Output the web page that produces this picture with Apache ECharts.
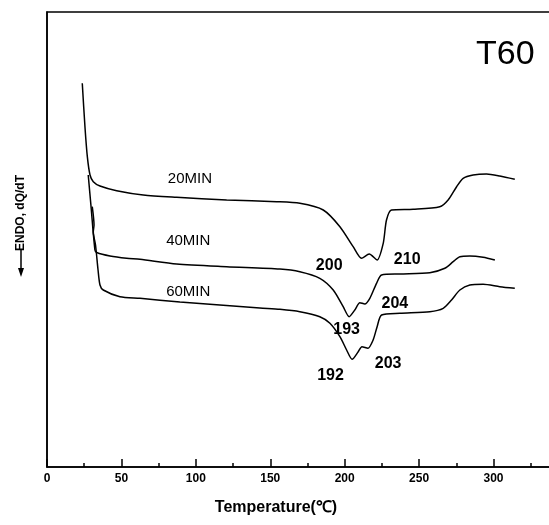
<!DOCTYPE html>
<html>
<head>
<meta charset="utf-8">
<title>T60 DSC</title>
<script src="https://cdn.jsdelivr.net/npm/echarts@6/dist/echarts.min.js"></script>
<style>
  html, body { margin: 0; padding: 0; background: #fff; }
  #chart { width: 549px; height: 525px; }
</style>
</head>
<body>
<div id="chart"></div>
<script>
// temperature (°C) vs heat flow (arbitrary units)
const curve20 = [
  [23.7, 383.7], [25.5, 340.3], [27.1, 310.3], [28.9, 292], [31.1, 285.3], [35.6, 281],
  [46.8, 276.3], [64.7, 272], [87.1, 269.7], [120.7, 267], [154.3, 265.3], [169.9, 263.7],
  [185.6, 257], [196.8, 240.3], [205.7, 220.3], [211.3, 208.7], [216.5, 213], [221.8, 207],
  [225.9, 223.7], [228.1, 247], [231.5, 257], [246, 257.7], [263.9, 260.3], [269.5, 267],
  [275.2, 280.3], [279.6, 288.7], [286.3, 292], [295.3, 293], [304.2, 291], [314.3, 287.7]
]
const curve40 = [
  [27.7, 292], [29.5, 262], [32.2, 217], [33.4, 214.5], [42.3, 211], [53.5, 208.7],
  [62.5, 207.7], [87.1, 203], [120.7, 200.3], [156.5, 198], [169.9, 195.3], [183.3, 188.7],
  [192.3, 177], [199, 160.3], [203, 150.3], [206.8, 157], [210.2, 164.3], [213.5, 163],
  [216.9, 168.7], [221.4, 183.7], [224.8, 192], [237.1, 193], [257.2, 194.3], [267.3, 198.7],
  [272.9, 205.3], [277.4, 210.3], [284.1, 211], [293, 209.7], [300.9, 207]
]
const curve60 = [
  [30.4, 260.3], [31.6, 242], [31.1, 235], [32.6, 222], [34.3, 197], [35.6, 182],
  [37.8, 177], [49, 170.3], [62.5, 168.7], [89.3, 165], [143, 159], [156.5, 157.7],
  [169.9, 155.3], [183.3, 150.3], [190.1, 143.7], [196.8, 130.3], [201.3, 117], [205, 107.7],
  [209.1, 115.3], [211.6, 120.3], [215.6, 118.7], [219.1, 127], [221.8, 140.3], [224.8, 152],
  [237.1, 153.7], [257.2, 155.3], [266.2, 158.7], [271.8, 167], [277.4, 177], [284.1, 182],
  [293, 182.7], [304.2, 180.3], [314.3, 178.7]
]
const curveNames = [
  [96.0, 287.7, '20MIN'],
  [94.9, 226.3, '40MIN'],
  [94.9, 175.3, '60MIN']
]
const peakLabels = [
  [189.6, 201, '200'], [242, 207.7, '210'],
  [201.3, 137, '193'], [233.7, 163, '204'],
  [190.5, 91, '192'], [229.2, 103.7, '203']
]
const xTicks = [0, 50, 100, 150, 200, 250, 300]
const xMinorTicks = [25, 75, 125, 175, 225, 275, 325]

const ink = '#000'
const chart = echarts.init(document.getElementById('chart'))

const lineSeries = (data) => ({
  type: 'line',
  data: data,
  showSymbol: false,
  smooth: 0.25,
  lineStyle: { color: ink, width: 1.5 },
  silent: true
})

const textSeries = (data, size, weight) => ({
  type: 'scatter',
  data: data,
  symbolSize: 0,
  silent: true,
  itemStyle: { opacity: 1 },
  label: {
    show: true,
    position: 'inside',
    formatter: (p) => p.data[2],
    color: ink,
    fontFamily: 'Liberation Sans, Arial, sans-serif',
    fontSize: size,
    fontWeight: weight
  }
})

const option = {
  animation: false,
  backgroundColor: '#fff',
  grid: {
    left: 47,
    top: 12,
    right: -10, // frame runs off the right edge, like the scan
    bottom: 58,
    outerBoundsMode: 'none',
    show: true,
    borderColor: ink,
    borderWidth: 1.5
  },
  xAxis: [
    {
      type: 'value',
      min: 0,
      max: 344,
      interval: 50,
      axisLine: { lineStyle: { color: ink, width: 1.5 } },
      axisTick: {
        show: true,
        inside: true,
        length: 8,
        customValues: xTicks,
        lineStyle: { color: ink, width: 1.5 }
      },
      splitLine: { show: false },
      axisLabel: {
        color: ink,
        fontFamily: 'Liberation Sans, Arial, sans-serif',
        fontSize: 12,
        fontWeight: 'bold',
        margin: 6,
        customValues: xTicks
      }
    },
    {
      // minor ticks at the half steps
      type: 'value',
      min: 0,
      max: 344,
      position: 'bottom',
      axisLine: { show: false },
      axisTick: {
        show: true,
        inside: true,
        length: 4,
        customValues: xMinorTicks,
        lineStyle: { color: ink, width: 1.5 }
      },
      axisLabel: { show: false },
      splitLine: { show: false }
    }
  ],
  yAxis: {
    type: 'value',
    min: 0,
    max: 455,
    axisLine: { show: true, lineStyle: { color: ink, width: 1.5 } },
    axisTick: { show: false },
    axisLabel: { show: false },
    splitLine: { show: false }
  },
  series: [
    lineSeries(curve20),
    lineSeries(curve40),
    lineSeries(curve60),
    textSeries(curveNames, 15, 'normal'),
    textSeries(peakLabels, 16, 'bold')
  ],
  graphic: [
    {
      type: 'text',
      left: 476,
      top: 38,
      style: {
        text: 'T60',
        fill: ink,
        font: '34px "Liberation Sans", Arial, sans-serif'
      }
    },
    {
      type: 'text',
      x: 276,
      y: 508,
      style: {
        text: 'Temperature(℃)',
        fill: ink,
        align: 'center',
        verticalAlign: 'middle',
        font: 'bold 16px "Liberation Sans", Arial, sans-serif'
      }
    },
    {
      type: 'text',
      x: 21,
      y: 213,
      rotation: Math.PI / 2,
      style: {
        text: 'ENDO, dQ/dT',
        fill: ink,
        align: 'center',
        verticalAlign: 'middle',
        font: 'bold 12px "Liberation Sans", Arial, sans-serif'
      }
    },
    {
      type: 'line',
      shape: { x1: 21, y1: 250, x2: 21, y2: 272 },
      style: { stroke: ink, lineWidth: 1.5 }
    },
    {
      type: 'polygon',
      shape: { points: [[18, 268], [24, 268], [21, 277]] },
      style: { fill: ink }
    }
  ]
}

chart.setOption(option)
</script>
</body>
</html>
